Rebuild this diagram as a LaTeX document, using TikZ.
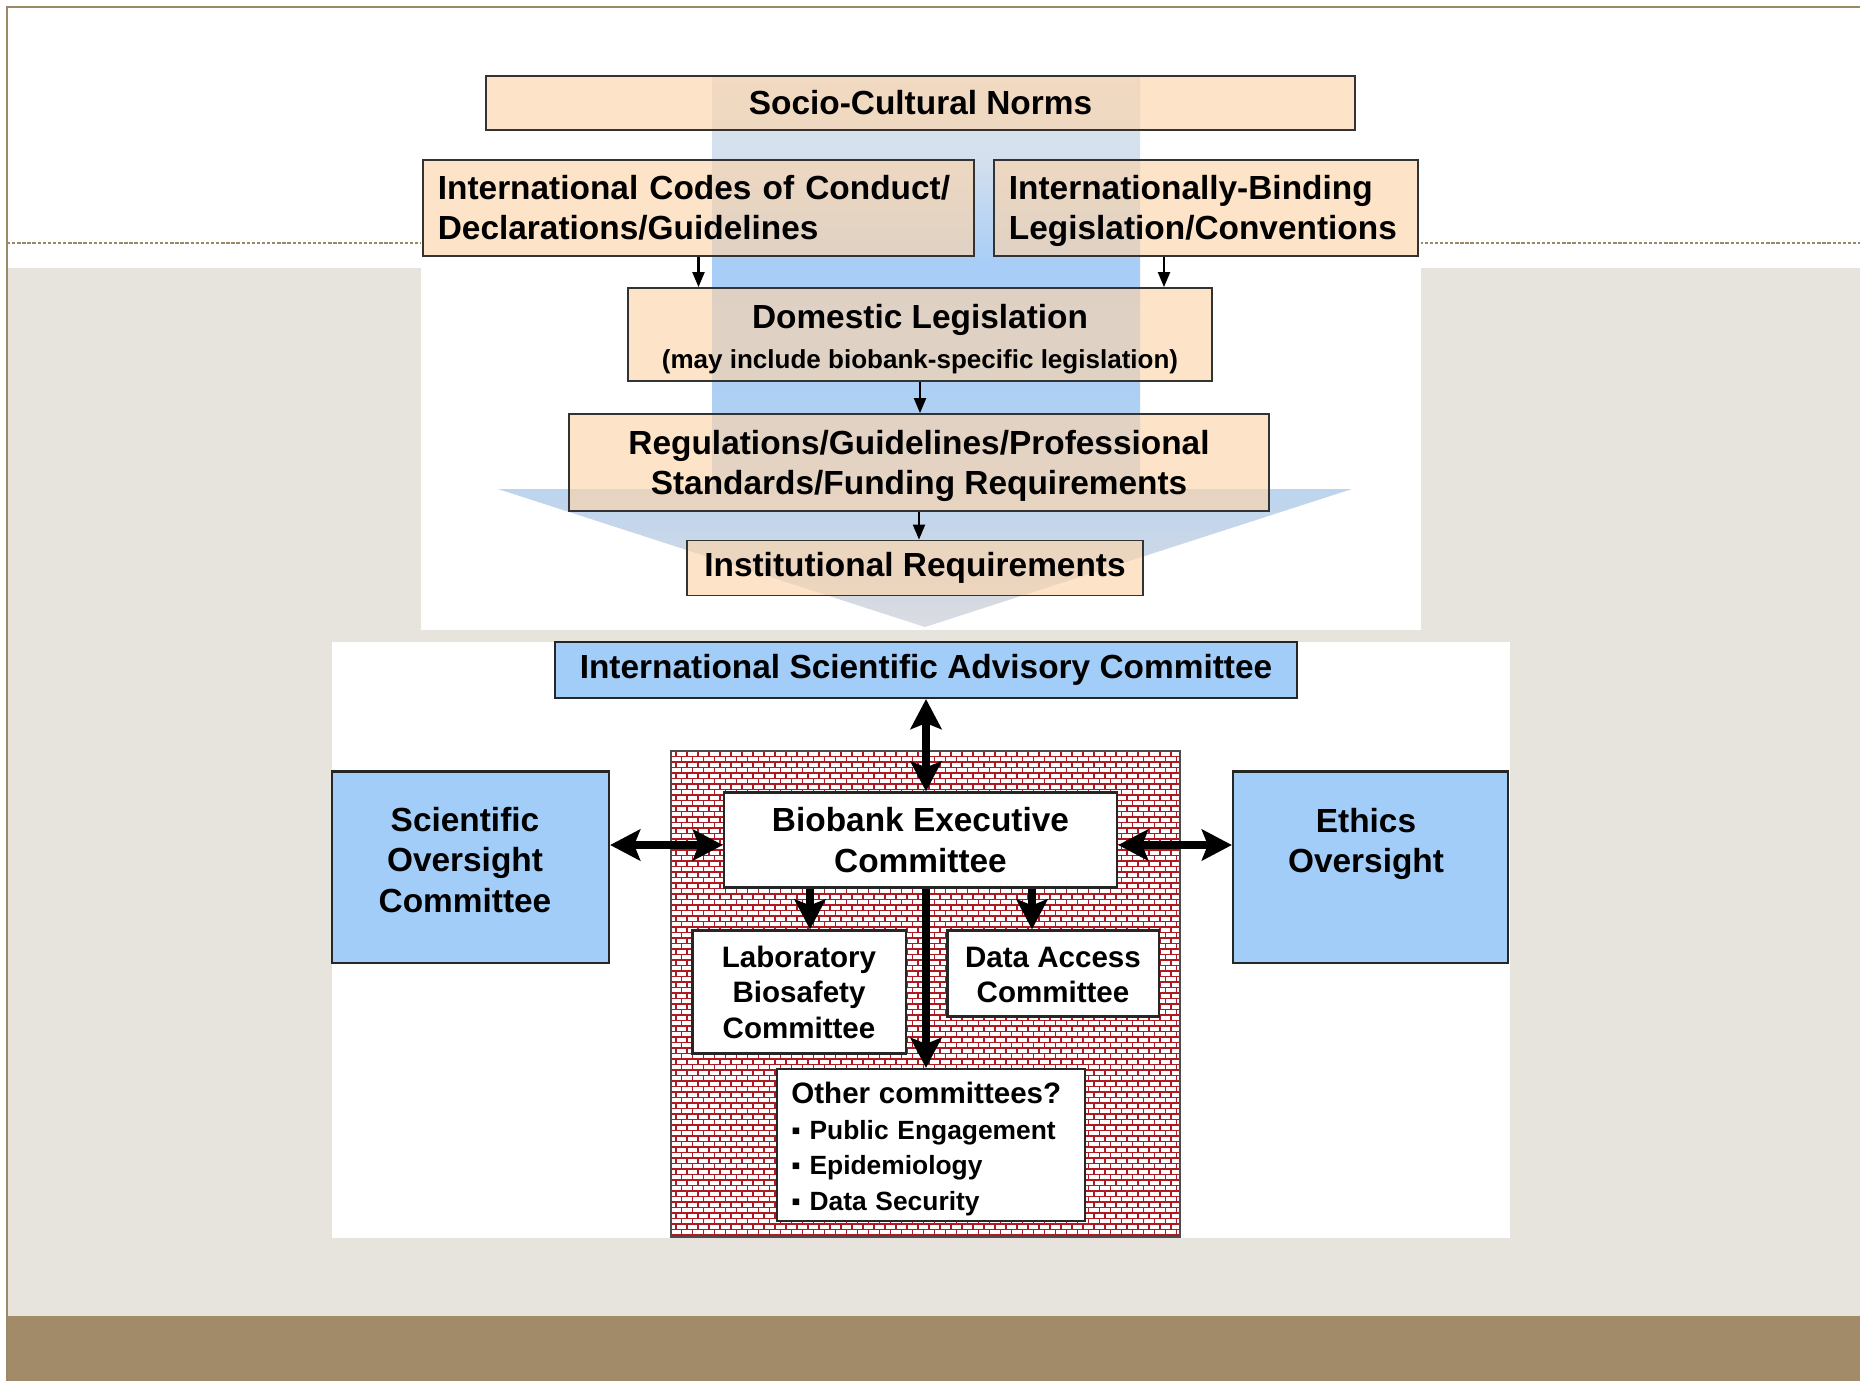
\documentclass[tikz,border=0pt]{standalone}
\usepackage{fontspec}
\setmainfont{Liberation Sans}
\usetikzlibrary{arrows.meta}

\definecolor{peach}{HTML}{FCD4AA}
\definecolor{skyblue}{HTML}{A2CDF8}
\definecolor{slidegray}{HTML}{E7E4DD}
\definecolor{slidebrown}{HTML}{A28B69}
\definecolor{slideline}{HTML}{9A8866}
\definecolor{brickred}{HTML}{AE1A22}
\definecolor{ar1}{HTML}{DADCE0}
\definecolor{ar2}{HTML}{CDD8E6}
\definecolor{ar3}{HTML}{BFD5EE}
\definecolor{ar4}{HTML}{AFD0F3}
\definecolor{ar5}{HTML}{A8CDF6}
\definecolor{ar6}{HTML}{D2DFEE}
\definecolor{ar7}{HTML}{E0E6EE}

% shading of the big arrow, bottom to top
\pgfdeclareverticalshading{bigarrow}{100bp}{color(0bp)=(ar1); color(25bp)=(ar1); color(31bp)=(ar2); color(36.5bp)=(ar3); color(44bp)=(ar4); color(55bp)=(ar5); color(58bp)=(ar5); color(67bp)=(ar6); color(75bp)=(ar7); color(100bp)=(ar7)}

\newcommand{\boxfont}{\fontsize{9.5}{11.4}\selectfont\bfseries}
\newcommand{\subfont}{\fontsize{7.4}{9}\selectfont\bfseries}
\newcommand{\medfont}{\fontsize{8.4}{10.1}\selectfont\bfseries}
\newcommand{\listfont}{\fontsize{7.5}{10.1}\selectfont\bfseries}

\begin{document}
\begin{tikzpicture}[
    x=0.01cm, y=-0.01cm,
    peachbox/.style={draw=black!80, line width=0.5pt, fill=peach, fill opacity=0.65, text opacity=1, font=\boxfont, inner sep=0pt, align=center},
    bluebox/.style={draw=black!85, line width=0.6pt, fill=skyblue, font=\boxfont, inner sep=0pt, align=center},
    whitebox/.style={draw=black!85, line width=0.6pt, fill=white, inner sep=0pt, align=center},
    tarrow/.style={-{Triangle[length=0.15cm,width=0.12cm]}, line width=0.6pt},
    fatarrow/.style={-{Stealth[length=0.3cm,width=0.31cm,inset=0.06cm]}, line width=2pt},
    fatdouble/.style={{Stealth[length=0.3cm,width=0.31cm,inset=0.06cm]}-{Stealth[length=0.3cm,width=0.31cm,inset=0.06cm]}, line width=2pt},
    brick/.style={draw=brickred, line width=0.5pt}
]
    \useasboundingbox (0,0) rectangle (1860,1381);

    % slide background
    \fill[white] (0,0) rectangle (1860,1381);
    \fill[slidegray] (7,268) rectangle (1860,1316);
    \fill[slidebrown] (7,1316) rectangle (1860,1381);
    \draw[slideline, line width=0.5pt, dash pattern=on 0.95pt off 0.5pt] (7,243) -- (1860,243);
    \draw[slideline, line width=0.5pt] (7,1381) -- (7,7) -- (1860,7);
    \fill[white] (421,142) rectangle (1421,630);
    \fill[white] (332,642) rectangle (1510,1238);

    % big arrow behind the regulatory boxes
    \shade[shading=bigarrow] (712,76) -- (1140,76) -- (1140,489) -- (1352,489) -- (925,627) -- (498,489) -- (712,489) -- cycle;

    \node[peachbox, minimum width=8.69cm, minimum height=0.54cm] (norms) at (920.5,103) {Socio-Cultural Norms};
    \node[peachbox, minimum width=5.51cm, minimum height=0.96cm, text width=5.21cm, align=left] (codes) at (698.5,208) {International Codes of Conduct/\\Declarations/Guidelines};
    \node[peachbox, minimum width=4.24cm, minimum height=0.96cm, text width=3.94cm, align=left] (binding) at (1206,208) {\rule{0pt}{0.9em}Internationally-Binding\\Legislation/Conventions};
    \node[peachbox, minimum width=5.83cm, minimum height=0.93cm] (domestic) at (920,334.5) {\rule{0pt}{1em}Domestic Legislation\\{\subfont (may include biobank-specific legislation)}};
    \node[peachbox, minimum width=6.99cm, minimum height=0.97cm] (regs) at (919,462.5) {\rule{0pt}{0.95em}Regulations/Guidelines/Professional\\Standards/Funding Requirements};
    \node[peachbox, minimum width=4.55cm, minimum height=0.55cm] (inst) at (915,568) {Institutional Requirements};

    \draw[tarrow] (codes.south) -- (codes.south |- domestic.north);
    \draw[tarrow] (binding.south -| 1164,0) -- (domestic.north -| 1164,0);
    \draw[tarrow] (domestic.south) -- (domestic.south |- regs.north);
    \draw[tarrow] (regs.south) -- (regs.south |- inst.north);

    % brick wall round the biobank committees
    \begin{scope}
        \clip (671,751) rectangle (1180,1237);
        \fill[white] (671,751) rectangle (1180,1237);
        \foreach \r in {0,...,88} {
            \pgfmathsetmacro{\rowy}{751+5.5*\r}
            \pgfmathsetmacro{\rowx}{665+5.5*mod(\r,2)}
            \draw[brick] (671,\rowy) -- (1180,\rowy);
            \draw[brick] foreach \c in {0,...,46} {(\rowx+11*\c,\rowy) -- ++(0,5.5)};
        }
    \end{scope}
    \draw[black!70, line width=0.5pt] (671,751) rectangle (1180,1237);

    \node[bluebox, minimum width=7.41cm, minimum height=0.56cm] (isac) at (926,670) {International Scientific Advisory Committee};
    \node[whitebox, font=\boxfont, minimum width=3.93cm, minimum height=0.95cm] (exec) at (920.5,840) {Biobank Executive\\Committee};
    \node[bluebox, minimum width=2.77cm, minimum height=1.91cm] (sci) at (470.5,867) {};
    \node[font=\boxfont, align=center] (scitext) at (465,860) {Scientific\\Oversight\\Committee};
    \node[bluebox, minimum width=2.75cm, minimum height=1.91cm] (ethics) at (1370.5,867) {};
    \node[font=\boxfont, align=center] (ethicstext) at (1366,843.5) {Ethics\\Oversight};
    \node[whitebox, font=\medfont, minimum width=2.13cm, minimum height=1.23cm] (lab) at (799,992) {Laboratory\\Biosafety\\Committee};
    \node[whitebox, font=\medfont, minimum width=2.11cm, minimum height=0.86cm] (data) at (1053,973.5) {\rule{0pt}{0.8em}Data Access\\Committee};
    \node[whitebox, font=\listfont, minimum width=3.07cm, minimum height=1.52cm, text width=2.79cm, align=left] (other) at (931,1145) {{\medfont\rule{0pt}{1em}Other committees?}\\▪ Public Engagement\\▪ Epidemiology\\▪ Data Security};

    \draw[fatdouble] (isac.south) -- (isac.south |- exec.north);
    \draw[fatdouble] (sci.east |- 0,845) -- (exec.west |- 0,845);
    \draw[fatdouble] (exec.east |- 0,845) -- (ethics.west |- 0,845);
    \draw[fatarrow] (exec.south -| 810,0) -- (lab.north -| 810,0);
    \draw[fatarrow] (exec.south -| 1032,0) -- (data.north -| 1032,0);
    \draw[fatarrow] (exec.south -| 926,0) -- (other.north -| 926,0);
\end{tikzpicture}
\end{document}
